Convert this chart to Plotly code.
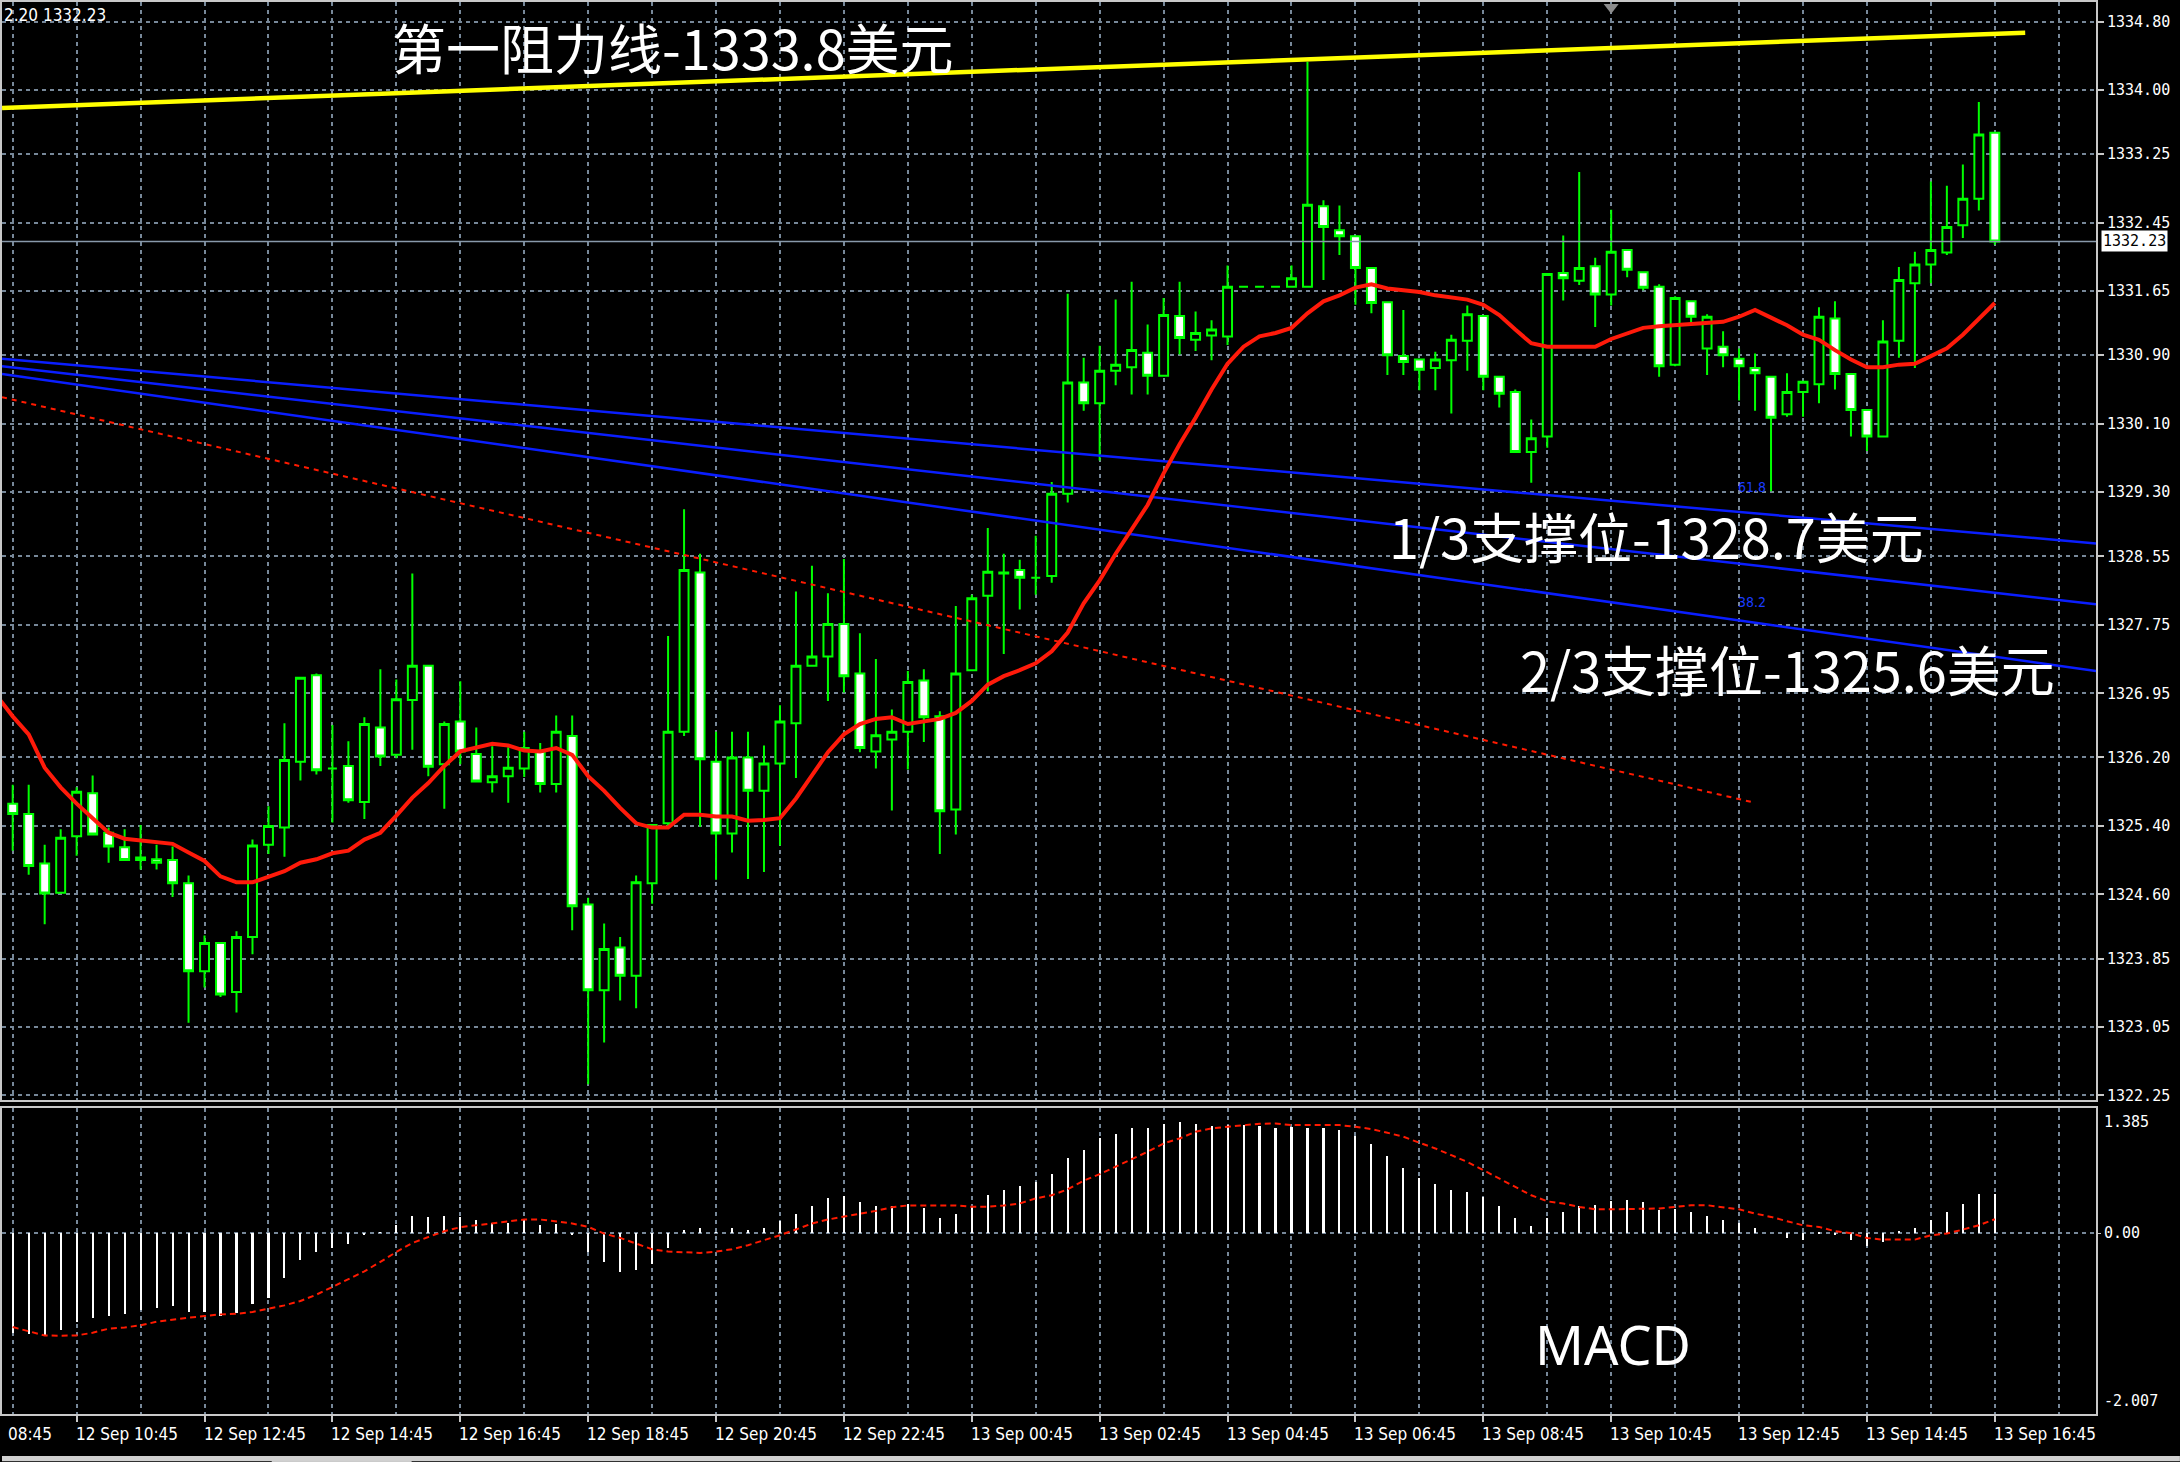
import plotly.graph_objects as go

# ---------------- XAUUSD M15 bars ----------------
bar_index = list(range(125))

opens = [1325.66, 1325.54, 1324.96, 1324.62, 1325.28, 1325.78, 1325.32, 1325.15, 1325.03, 1325.01,
         1325.00, 1324.73, 1323.70, 1324.03, 1323.46, 1324.10, 1325.18, 1325.38, 1326.15, 1327.16,
         1326.07, 1326.10, 1325.68, 1326.55, 1326.23, 1326.87, 1327.27, 1326.12, 1326.62, 1326.24,
         1325.91, 1325.98, 1326.07, 1326.27, 1325.89, 1326.45, 1324.48, 1323.48, 1323.98, 1323.65,
         1324.73, 1325.43, 1326.50, 1328.36, 1326.15, 1325.31, 1326.20, 1325.81, 1326.13, 1326.60,
         1327.27, 1327.38, 1327.76, 1327.18, 1326.27, 1326.41, 1326.50, 1327.10, 1326.68, 1325.59,
         1327.22, 1328.09, 1328.36, 1328.39, 1328.30, 1328.32, 1329.28, 1330.58, 1330.34, 1330.72,
         1330.76, 1330.93, 1330.66, 1331.36, 1331.08, 1331.13, 1331.12, 1331.70, 1331.70, 1331.70,
         1331.70, 1331.70, 1332.64, 1332.36, 1332.29, 1331.92, 1331.52, 1330.89, 1330.85, 1330.75,
         1330.84, 1331.07, 1331.36, 1330.65, 1330.47, 1329.77, 1329.95, 1331.86, 1331.77, 1331.94,
         1331.61, 1332.13, 1331.87, 1331.70, 1330.79, 1331.53, 1330.98, 1331.00, 1330.86, 1330.75,
         1330.65, 1330.21, 1330.47, 1330.56, 1331.33, 1330.68, 1330.26, 1329.95, 1331.07, 1331.74,
         1331.96, 1332.10, 1332.42, 1332.73, 1333.50]
highs = [1325.88, 1325.88, 1325.18, 1325.36, 1325.85, 1325.99, 1325.38, 1325.36, 1325.41, 1325.18,
         1325.16, 1324.82, 1324.12, 1324.03, 1324.17, 1325.24, 1325.63, 1326.60, 1327.13, 1327.18,
         1326.58, 1326.39, 1326.67, 1327.23, 1327.11, 1328.35, 1327.27, 1326.62, 1327.09, 1326.55,
         1326.33, 1326.32, 1326.50, 1326.37, 1326.69, 1326.69, 1324.56, 1324.26, 1324.10, 1324.82,
         1325.42, 1327.62, 1329.10, 1328.58, 1326.50, 1326.50, 1326.50, 1326.34, 1326.81, 1328.14,
         1328.44, 1328.12, 1328.52, 1327.65, 1327.35, 1326.76, 1327.21, 1327.23, 1326.74, 1327.97,
         1328.10, 1328.88, 1328.58, 1328.51, 1328.79, 1329.42, 1331.62, 1330.87, 1331.01, 1331.55,
         1331.76, 1331.26, 1331.57, 1331.76, 1331.41, 1331.31, 1331.95, 1331.70, 1331.70, 1331.70,
         1331.95, 1334.33, 1332.71, 1332.65, 1332.29, 1331.92, 1331.52, 1331.43, 1330.85, 1330.94,
         1331.14, 1331.48, 1331.36, 1330.65, 1330.50, 1330.15, 1331.85, 1332.30, 1333.04, 1332.04,
         1332.60, 1332.13, 1331.87, 1331.73, 1331.59, 1331.53, 1331.38, 1331.18, 1330.98, 1330.92,
         1330.65, 1330.69, 1330.60, 1331.46, 1331.53, 1330.68, 1330.26, 1331.31, 1331.93, 1332.11,
         1332.93, 1332.88, 1333.13, 1333.86, 1333.50]
lows = [1325.11, 1324.83, 1324.25, 1324.62, 1325.05, 1325.30, 1324.97, 1325.00, 1324.89, 1324.89,
        1324.57, 1323.10, 1323.51, 1323.40, 1323.22, 1323.90, 1325.07, 1325.04, 1325.93, 1326.00,
        1325.44, 1325.67, 1325.48, 1326.10, 1326.19, 1326.29, 1325.98, 1325.60, 1326.12, 1325.92,
        1325.79, 1325.67, 1325.97, 1325.79, 1325.79, 1324.18, 1322.38, 1322.87, 1323.36, 1323.27,
        1324.49, 1325.38, 1326.45, 1325.39, 1324.77, 1325.09, 1324.78, 1324.86, 1325.17, 1325.96,
        1327.27, 1326.86, 1326.96, 1326.26, 1326.07, 1325.58, 1326.06, 1326.38, 1325.07, 1325.30,
        1327.22, 1326.97, 1327.41, 1327.93, 1328.10, 1328.24, 1329.18, 1330.25, 1329.67, 1330.55,
        1330.44, 1330.44, 1330.66, 1330.91, 1330.95, 1330.84, 1331.02, 1331.70, 1331.70, 1331.70,
        1331.70, 1331.70, 1331.78, 1332.07, 1331.49, 1331.39, 1330.67, 1330.67, 1330.49, 1330.49,
        1330.22, 1330.72, 1330.49, 1330.29, 1329.77, 1329.41, 1329.82, 1331.54, 1331.72, 1331.23,
        1331.48, 1331.81, 1331.66, 1330.65, 1330.77, 1331.26, 1330.67, 1330.76, 1330.37, 1330.25,
        1329.31, 1330.18, 1330.18, 1330.34, 1330.50, 1329.95, 1329.78, 1329.95, 1330.87, 1330.75,
        1331.74, 1332.07, 1332.27, 1332.59, 1332.19]
closes = [1325.54, 1324.93, 1324.61, 1325.26, 1325.80, 1325.30, 1325.16, 1325.00, 1325.00, 1324.97,
          1324.73, 1323.70, 1324.03, 1323.43, 1324.10, 1325.17, 1325.40, 1326.17, 1327.13, 1326.05,
          1326.07, 1325.70, 1326.59, 1326.21, 1326.88, 1327.27, 1326.09, 1326.59, 1326.27, 1325.92,
          1325.98, 1326.08, 1326.31, 1325.89, 1326.50, 1324.46, 1323.48, 1323.96, 1323.65, 1324.74,
          1325.41, 1326.50, 1328.39, 1326.18, 1325.31, 1326.20, 1325.81, 1326.13, 1326.62, 1327.27,
          1327.38, 1327.76, 1327.15, 1326.31, 1326.46, 1326.50, 1327.08, 1326.67, 1325.57, 1327.18,
          1328.06, 1328.37, 1328.35, 1328.30, 1328.30, 1329.28, 1330.58, 1330.34, 1330.72, 1330.79,
          1330.96, 1330.66, 1331.37, 1331.10, 1331.16, 1331.20, 1331.70, 1331.70, 1331.70, 1331.70,
          1331.80, 1332.66, 1332.40, 1332.29, 1331.92, 1331.51, 1330.90, 1330.82, 1330.73, 1330.85,
          1331.08, 1331.38, 1330.65, 1330.45, 1329.77, 1329.93, 1331.85, 1331.80, 1331.92, 1331.61,
          1332.11, 1331.90, 1331.69, 1330.77, 1331.57, 1331.35, 1331.35, 1330.90, 1330.77, 1330.69,
          1330.17, 1330.47, 1330.59, 1331.35, 1330.68, 1330.26, 1329.95, 1331.06, 1331.78, 1331.96,
          1332.13, 1332.40, 1332.73, 1333.48, 1332.23]

# moving average (starts one bar before the first visible bar)
ma_index = list(range(-1, 125))
ma_values = [1326.92,
             1326.68, 1326.47, 1326.08, 1325.85, 1325.66, 1325.49, 1325.32, 1325.25, 1325.23, 1325.21,
             1325.19, 1325.09, 1324.99, 1324.81, 1324.74, 1324.74, 1324.80, 1324.87, 1324.97, 1325.01,
             1325.08, 1325.11, 1325.24, 1325.32, 1325.52, 1325.73, 1325.90, 1326.10, 1326.27, 1326.32,
             1326.36, 1326.34, 1326.28, 1326.27, 1326.31, 1326.23, 1325.98, 1325.81, 1325.61, 1325.43,
             1325.38, 1325.38, 1325.53, 1325.53, 1325.51, 1325.51, 1325.46, 1325.47, 1325.49, 1325.72,
             1325.99, 1326.26, 1326.47, 1326.59, 1326.65, 1326.67, 1326.59, 1326.62, 1326.65, 1326.72,
             1326.86, 1327.05, 1327.15, 1327.22, 1327.30, 1327.44, 1327.66, 1328.00, 1328.27, 1328.58,
             1328.86, 1329.15, 1329.52, 1329.86, 1330.17, 1330.50, 1330.80, 1331.00, 1331.12, 1331.16,
             1331.22, 1331.39, 1331.53, 1331.60, 1331.69, 1331.73, 1331.68, 1331.66, 1331.64, 1331.60,
             1331.57, 1331.55, 1331.49, 1331.37, 1331.20, 1331.04, 1331.00, 1331.00, 1331.00, 1331.00,
             1331.09, 1331.16, 1331.22, 1331.24, 1331.25, 1331.26, 1331.27, 1331.29, 1331.35, 1331.43,
             1331.34, 1331.25, 1331.14, 1331.08, 1330.96, 1330.85, 1330.76, 1330.76, 1330.79, 1330.80,
             1330.89, 1330.98, 1331.14, 1331.33, 1331.51]

# MACD main (histogram) and signal line
macd_hist = [-1.116, -1.127, -1.135, -1.079, -0.986, -0.942, -0.923, -0.897, -0.857, -0.831,
             -0.812, -0.875, -0.882, -0.920, -0.894, -0.793, -0.727, -0.504, -0.300, -0.208,
             -0.171, -0.122, -0.030, 0.005, 0.089, 0.189, 0.171, 0.189, 0.171, 0.145,
             0.108, 0.108, 0.145, 0.082, 0.096, -0.030, -0.208, -0.319, -0.430, -0.412,
             -0.345, -0.171, 0.033, 0.052, 0.007, 0.052, 0.033, 0.052, 0.126, 0.211,
             0.300, 0.386, 0.412, 0.341, 0.300, 0.293, 0.319, 0.274, 0.163, 0.208,
             0.293, 0.415, 0.478, 0.523, 0.564, 0.655, 0.830, 0.922, 1.050, 1.097,
             1.163, 1.163, 1.208, 1.230, 1.208, 1.189, 1.200, 1.193, 1.182, 1.163,
             1.171, 1.163, 1.163, 1.141, 1.071, 0.986, 0.849, 0.719, 0.607, 0.541,
             0.474, 0.448, 0.396, 0.300, 0.162, 0.077, 0.162, 0.229, 0.300, 0.311,
             0.348, 0.366, 0.340, 0.255, 0.266, 0.229, 0.189, 0.144, 0.107, 0.051,
             0.000, -0.053, -0.079, -0.010, -0.030, -0.079, -0.145, -0.097, 0.014, 0.051,
             0.144, 0.229, 0.318, 0.430, 0.430]
macd_signal = [-1.042, -1.086, -1.135, -1.138, -1.135, -1.105, -1.060, -1.046, -1.023, -0.983,
               -0.957, -0.938, -0.920, -0.901, -0.894, -0.875, -0.838, -0.801, -0.753, -0.682,
               -0.597, -0.512, -0.423, -0.319, -0.208, -0.108, -0.041, 0.022, 0.067, 0.089,
               0.108, 0.133, 0.152, 0.152, 0.133, 0.108, 0.070, -0.004, -0.052, -0.115,
               -0.178, -0.204, -0.208, -0.219, -0.204, -0.178, -0.133, -0.078, -0.022, 0.041,
               0.108, 0.152, 0.182, 0.219, 0.248, 0.289, 0.308, 0.308, 0.308, 0.308,
               0.293, 0.293, 0.308, 0.330, 0.386, 0.422, 0.487, 0.583, 0.655, 0.737,
               0.822, 0.904, 0.996, 1.052, 1.126, 1.163, 1.182, 1.200, 1.215, 1.219,
               1.200, 1.200, 1.200, 1.200, 1.182, 1.156, 1.115, 1.071, 1.004, 0.941,
               0.866, 0.792, 0.700, 0.607, 0.514, 0.421, 0.354, 0.329, 0.291, 0.266,
               0.266, 0.266, 0.266, 0.274, 0.291, 0.311, 0.311, 0.291, 0.266, 0.218,
               0.181, 0.133, 0.088, 0.070, 0.022, 0.000, -0.053, -0.071, -0.071, -0.071,
               -0.023, -0.004, 0.040, 0.088, 0.155]

# axis labels
price_ticks = [1334.80, 1334.00, 1333.25, 1332.45, 1331.65, 1330.90, 1330.10, 1329.30, 1328.55,
               1327.75, 1326.95, 1326.20, 1325.40, 1324.60, 1323.85, 1323.05, 1322.25]
time_label_index = [4, 12, 20, 28, 36, 44, 52, 60, 68, 76, 84, 92, 100, 108, 116, 124]
time_labels = ["12 Sep 10:45", "12 Sep 12:45", "12 Sep 14:45", "12 Sep 16:45", "12 Sep 18:45",
               "12 Sep 20:45", "12 Sep 22:45", "13 Sep 00:45", "13 Sep 02:45", "13 Sep 04:45",
               "13 Sep 06:45", "13 Sep 08:45", "13 Sep 10:45", "13 Sep 12:45", "13 Sep 14:45",
               "13 Sep 16:45"]
macd_top, macd_bottom = 1.385, -2.007

# drawn objects: resistance line, fan lines, dotted trend line
last_price = 1332.23
resistance_x = [-0.67, 125.9]
resistance_y = [1333.79, 1334.67]
fan_x = [-0.67, 130.33]
fan_start = [1330.86, 1330.77, 1330.68]
fan_end = [1328.70, 1327.99, 1327.21]
fan_labels = ["61.8", "38.2"]
fan_label_x = 108.8
fan_label_y = [1329.36, 1328.02]
trend_x = [-0.67, 109.0]
trend_y = [1330.41, 1325.67]
shift_marker_index = 100

# text notes on the chart
notes = [
    ("第一阻力线-1333.8美元", 23.6, 1334.51),
    ("1/3支撑位-1328.7美元", 86.0, 1328.79),
    ("2/3支撑位-1325.6美元", 94.2, 1327.24),
]
macd_note = ("MACD", 95.1, -1.23)

X_RANGE = [-0.67, 130.33]
PRICE_RANGE = [1322.192, 1335.028]

GRID = "#778899"
FRAME = "#c8c8c8"
LIME = "#00ff00"
AXIS_FONT = dict(family="DejaVu Sans Mono, monospace", size=15, color="white")
TIME_FONT = dict(family="Liberation Sans Narrow, DejaVu Sans Condensed, Arial Narrow, sans-serif",
                 size=17, color="white")
NOTE_FONT = dict(family="Noto Sans CJK SC, sans-serif", size=54, color="white")

fig = go.Figure()

fig.add_trace(go.Scatter(x=resistance_x, y=resistance_y, mode="lines", xaxis="x2", yaxis="y",
                         line=dict(color="#ffff00", width=4.5), hoverinfo="skip"))
for s, e in zip(fan_start, fan_end):
    fig.add_trace(go.Scatter(x=fan_x, y=[s, e], mode="lines", xaxis="x2", yaxis="y",
                             line=dict(color="#0a1eff", width=2.5), hoverinfo="skip"))
fig.add_trace(go.Scatter(x=trend_x, y=trend_y, mode="lines", xaxis="x2", yaxis="y",
                         line=dict(color="#ff1a00", width=2, dash="5px,5px"), hoverinfo="skip"))
fig.add_trace(go.Scatter(x=X_RANGE, y=[last_price, last_price], mode="lines", xaxis="x2", yaxis="y",
                         line=dict(color="#8899aa", width=1.5), hoverinfo="skip"))

fig.add_trace(go.Candlestick(
    x=bar_index, open=opens, high=highs, low=lows, close=closes,
    xaxis="x2", yaxis="y", whiskerwidth=0,
    increasing=dict(line=dict(color=LIME, width=2), fillcolor="black"),
    decreasing=dict(line=dict(color=LIME, width=2), fillcolor="white"),
))

fig.add_trace(go.Scatter(x=ma_index, y=ma_values, mode="lines", xaxis="x2", yaxis="y",
                         line=dict(color="#ff1a0a", width=4), hoverinfo="skip"))

fig.add_trace(go.Scatter(x=[shift_marker_index], y=[PRICE_RANGE[1] - 0.06], mode="markers",
                         xaxis="x2", yaxis="y", cliponaxis=False,
                         marker=dict(symbol="triangle-down", size=13, color="#8c8c8c"),
                         hoverinfo="skip"))

fig.add_trace(go.Bar(x=bar_index, y=macd_hist, xaxis="x", yaxis="y2", width=0.13,
                     marker=dict(color="white", line=dict(width=0)), hoverinfo="skip"))
fig.add_trace(go.Scatter(x=bar_index, y=macd_signal, mode="lines", xaxis="x", yaxis="y2",
                         line=dict(color="#ff1a00", width=2, dash="6px,4px"), hoverinfo="skip"))

grid_common = dict(showgrid=True, gridcolor=GRID, gridwidth=1.5, griddash="4px,4px", zeroline=False)

fig.update_layout(
    width=2180, height=1462,
    margin=dict(l=0, r=84, t=0, b=48),
    paper_bgcolor="black", plot_bgcolor="black",
    showlegend=False, boxgap=0.2, bargap=0,
    xaxis=dict(domain=[0, 1], range=X_RANGE, anchor="y2",
               tickmode="linear", tick0=4, dtick=8, ticks="outside", ticklen=6,
               tickcolor=FRAME, tickwidth=1.5, showticklabels=False,
               minor=dict(tick0=0, dtick=8, showgrid=True, gridcolor=GRID, gridwidth=1.5,
                          griddash="4px,4px", ticks=""),
               showline=True, mirror=True, linecolor=FRAME, linewidth=2,
               rangeslider=dict(visible=False), **grid_common),
    xaxis2=dict(domain=[0, 1], range=X_RANGE, anchor="y", matches="x",
                tickmode="linear", tick0=4, dtick=8, ticks="", showticklabels=False,
                minor=dict(tick0=0, dtick=8, showgrid=True, gridcolor=GRID, gridwidth=1.5,
                           griddash="4px,4px", ticks=""),
                showline=True, mirror=True, linecolor=FRAME, linewidth=2,
                rangeslider=dict(visible=False), **grid_common),
    yaxis=dict(domain=[0.2221, 1], range=PRICE_RANGE, anchor="x2", side="right",
               tickmode="array", tickvals=price_ticks, ticktext=[f"{v:.2f}" for v in price_ticks],
               ticks="outside", ticklen=6, tickcolor=FRAME, tickwidth=1.5, tickfont=AXIS_FONT,
               showline=True, mirror=True, linecolor=FRAME, linewidth=2, **grid_common),
    yaxis2=dict(domain=[0, 0.2164], range=[macd_bottom, macd_top], anchor="x", side="right",
                tickmode="array", tickvals=[0], ticktext=["0.00"],
                ticks="outside", ticklen=3, tickcolor=FRAME, tickfont=AXIS_FONT,
                showline=True, mirror=True, linecolor=FRAME, linewidth=2, **grid_common),
)

annotations = []
for idx, lab in zip(time_label_index, time_labels):
    annotations.append(dict(x=idx, y=0, xref="x", yref="paper", xanchor="left", yanchor="top",
                            xshift=-3, yshift=-8, text=lab, showarrow=False, font=TIME_FONT))
annotations.append(dict(x=0, y=0, xref="paper", yref="paper", xanchor="left", yanchor="top",
                        xshift=4, yshift=-8, text="08:45", showarrow=False, font=TIME_FONT))
annotations.append(dict(x=1, y=last_price, xref="paper", yref="y", xanchor="left", yanchor="middle",
                        xshift=5, text=f"{last_price:.2f}", showarrow=False, bgcolor="white",
                        borderpad=1, font=dict(family=AXIS_FONT["family"], size=15, color="black")))
annotations.append(dict(x=1, y=macd_top, xref="paper", yref="y2", xanchor="left", yanchor="top",
                        xshift=6, yshift=-3, text=f"{macd_top:.3f}", showarrow=False, font=AXIS_FONT))
annotations.append(dict(x=1, y=macd_bottom, xref="paper", yref="y2", xanchor="left", yanchor="bottom",
                        xshift=6, yshift=2, text=f"{macd_bottom:.3f}", showarrow=False, font=AXIS_FONT))
annotations.append(dict(x=0, y=1, xref="paper", yref="paper", xanchor="left", yanchor="top",
                        yshift=-1, text="2.20 1332.23", showarrow=False,
                        font=dict(family=TIME_FONT["family"], size=17, color="white")))
for lvl, yv in zip(fan_labels, fan_label_y):
    annotations.append(dict(x=fan_label_x, y=yv, xref="x2", yref="y", text=lvl, showarrow=False,
                            font=dict(family=TIME_FONT["family"], size=14, color="#1a3cff")))
for txt, xv, yv in notes:
    annotations.append(dict(x=xv, y=yv, xref="x2", yref="y", xanchor="left", yanchor="middle",
                            text=txt, showarrow=False, font=NOTE_FONT))
annotations.append(dict(x=macd_note[1], y=macd_note[2], xref="x", yref="y2", xanchor="left",
                        yanchor="middle", text=macd_note[0], showarrow=False,
                        font=dict(family="Noto Sans, sans-serif", size=54, color="white")))
fig.update_layout(annotations=annotations)

# terminal tab strip along the bottom edge
fig.update_layout(shapes=[
    dict(type="rect", xref="paper", yref="paper", x0=0, x1=2180 / 2096, y0=-0.0297, y1=-0.0335,
         fillcolor="#d0d0d0", line=dict(width=0), layer="above"),
    dict(type="rect", xref="paper", yref="paper", x0=0, x1=2180 / 2096, y0=-0.0335, y1=-0.04,
         fillcolor="#303030", line=dict(width=0), layer="above"),
    dict(type="rect", xref="paper", yref="paper", x0=270 / 2096, x1=410 / 2096, y0=-0.0335, y1=-0.04,
         fillcolor="white", line=dict(width=0), layer="above"),
])

fig.write_html("out.html")
